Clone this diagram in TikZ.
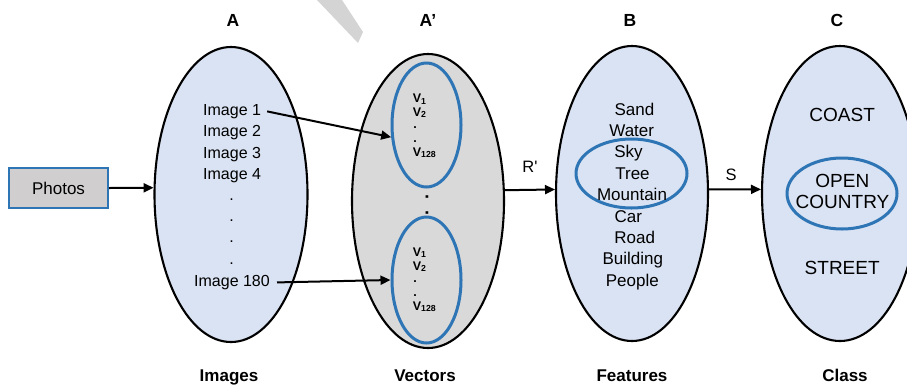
\documentclass[tikz,border=0pt]{standalone}
\usepackage{fontspec}
\setmainfont{Liberation Sans}
\newfontfamily\plainsans{Liberation Sans}[Ligatures=TeXOff]
\usetikzlibrary{shapes.geometric,arrows.meta}
\definecolor{lblue}{HTML}{DAE3F3}
\definecolor{lgray}{HTML}{D9D9D9}
\definecolor{bblue}{HTML}{2E75B6}
\definecolor{boxgray}{HTML}{D0CECE}
\definecolor{wm}{HTML}{D4D4D4}
\tikzset{
  setell/.style={ellipse, draw=black, line width=2.1pt, inner sep=0pt},
  subell/.style={ellipse, draw=bblue, line width=3pt, inner sep=0pt},
  arr/.style={line width=2pt, -{Triangle[length=10pt,width=9pt]}},
  hdr/.style={font=\fontsize{17.5}{20}\selectfont\bfseries, inner sep=0pt, anchor=base},
  txt/.style={inner sep=0pt, text height=0.72em, text depth=0pt},
  ta/.style={txt, font=\fontsize{16}{19}\selectfont},
  tb/.style={txt, font=\fontsize{17}{20}\selectfont, anchor=base},
  tc/.style={txt, font=\fontsize{19}{22}\selectfont, anchor=base},
  tv/.style={inner sep=0pt, font=\fontsize{12.5}{14}\selectfont\bfseries, anchor=base west},
  dotn/.style={inner sep=0pt, text height=0.15em, text depth=0pt, anchor=base},
}
\begin{document}
\begin{tikzpicture}[x=1pt,y=-1pt]
\useasboundingbox (0,0) rectangle (907,384);
\clip (0,0) rectangle (907,384);
% watermark fragment
\fill[wm] (317,0) -- (342,0) -- (363,32) -- (358,43) -- cycle;

% headers
\node[hdr] (hA) at (233,26) {A};
\node[hdr] (hAp) at (428,26) {A’};
\node[hdr] (hB) at (630,26) {B};
\node[hdr] (hC) at (837,26) {C};
% bottom labels
\node[hdr, font=\fontsize{17}{20}\selectfont\bfseries] (lA) at (229,381) {Images};
\node[hdr, font=\fontsize{17}{20}\selectfont\bfseries] (lAp) at (425,381) {Vectors};
\node[hdr, font=\fontsize{17}{20}\selectfont\bfseries] (lB) at (632,381) {Features};
\node[hdr, font=\fontsize{17}{20}\selectfont\bfseries] (lC) at (845,381) {Class};

% photos
\node[draw=bblue, fill=boxgray, line width=2pt, minimum width=99pt, minimum height=40pt, inner sep=0pt,
      font=\fontsize{17}{20}\selectfont] (photos) at (58.5,188) {Photos};

% ellipses
\node[setell, fill=lblue, minimum width=153pt, minimum height=295pt] (a) at (231,194.5) {};
\node[setell, fill=lgray, minimum width=152pt, minimum height=294pt] (ap) at (428,201) {};
\node[setell, fill=lblue, minimum width=152pt, minimum height=295pt] (b) at (632,193.5) {};
\node[setell, fill=lblue, minimum width=156pt, minimum height=295pt] (c) at (840,193.5) {};

% sub ellipses in A'
\node[subell, minimum width=69pt, minimum height=124pt] (v1) at (426.5,125) {};
\node[subell, minimum width=69pt, minimum height=126pt] (v2) at (426.5,280) {};

% texts in A
\node[ta, anchor=base west] (i1) at (203,115) {Image 1};
\node[ta, anchor=base west] (i2) at (203,136.5) {Image 2};
\node[ta, anchor=base west] (i3) at (203,158) {Image 3};
\node[ta, anchor=base west] (i4) at (203,179.5) {Image 4};
\node[dotn, font=\fontsize{16}{19}\selectfont] (d1) at (231.7,200) {.};
\node[dotn, font=\fontsize{16}{19}\selectfont] (d2) at (231.7,221) {.};
\node[dotn, font=\fontsize{16}{19}\selectfont] (d3) at (231.7,242) {.};
\node[dotn, font=\fontsize{16}{19}\selectfont] (d4) at (231.7,264) {.};
\node[ta, anchor=base west] (i180) at (194,286) {Image 180};

% texts in A'
\node[tv] (va1) at (412.7,102.5) {V\textsubscript{1}};
\node[tv] (va2) at (412.7,116) {V\textsubscript{2}};
\node[dotn, font=\fontsize{12.5}{14}\selectfont\bfseries] (vad1) at (415,128.5) {.};
\node[dotn, font=\fontsize{12.5}{14}\selectfont\bfseries] (vad2) at (415,142.5) {.};
\node[tv] (va3) at (412.7,156) {V\textsubscript{128}};
\node[tv] (vb1) at (412.7,256) {V\textsubscript{1}};
\node[tv] (vb2) at (412.7,270) {V\textsubscript{2}};
\node[dotn, font=\fontsize{12.5}{14}\selectfont\bfseries] (vbd1) at (415,282) {.};
\node[dotn, font=\fontsize{12.5}{14}\selectfont\bfseries] (vbd2) at (415,296) {.};
\node[tv] (vb3) at (412.7,310) {V\textsubscript{128}};
\node[inner sep=0pt, rotate=90, font=\fontsize{18}{20}\selectfont\bfseries] (md) at (427,205) {.\hspace{10.5pt}.};

% texts in B
\node[subell, minimum width=111pt, minimum height=69pt] (bs) at (631.5,173.5) {};
\node[tb] (f1) at (634.5,115) {Sand};
\node[tb] (f2) at (631.7,136.4) {Water};
\node[tb] (f3) at (628.5,157.8) {Sky};
\node[tb] (f4) at (632.5,179.2) {Tree};
\node[tb] (f5) at (632,200.6) {Mountain};
\node[tb] (f6) at (628.3,222) {Car};
\node[tb] (f7) at (634.7,243.4) {Road};
\node[tb] (f8) at (632.8,264.8) {Building};
\node[tb] (f9) at (632.3,286.2) {People};

% texts in C
\node[subell, minimum width=110pt, minimum height=71pt] (cs) at (842,193.5) {};
\node[tc] (k1) at (842.2,121) {COAST};
\node[tc] (k2) at (842.3,187) {OPEN};
\node[tc] (k3) at (842.5,208.5) {COUNTRY};
\node[tc] (k4) at (842.2,274) {STREET};

% arrow labels
\node[tb, font=\fontsize{16.5}{19}\plainsans] (rp) at (530,172) {R'};
\node[tb, font=\fontsize{16.5}{19}\selectfont] (s) at (731,180) {S};

% arrows
\draw[arr] (photos.east) -- (a.175);
\draw[arr] ([xshift=6pt]i1.east) -- (v1.199);
\draw[arr] ([xshift=7pt]i180.east) -- (v2.west);
\draw[arr] (ap.8) -- (b.177);
\draw[arr] (b.3) -- (c.177);
\end{tikzpicture}
\end{document}
